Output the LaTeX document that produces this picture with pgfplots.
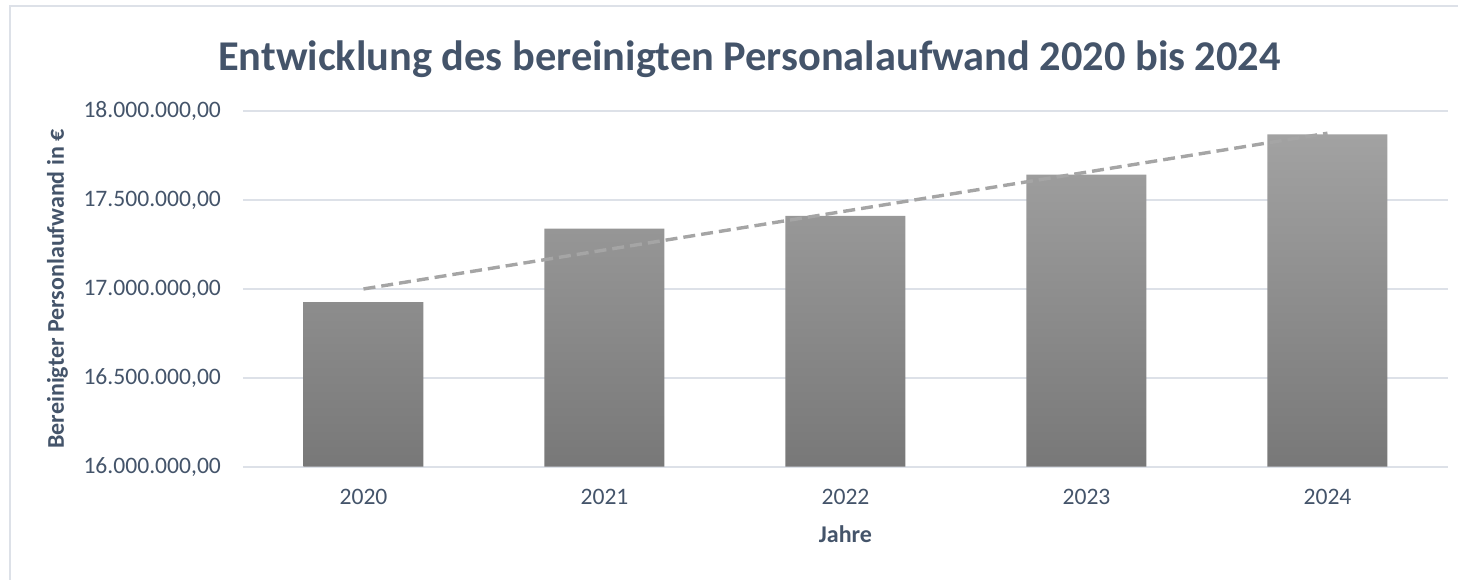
\documentclass[border=0pt]{standalone}
\usepackage{fontspec}
\setmainfont{Carlito}
\usepackage{pgfplots}
\usepackage{pgfplotstable}
\pgfplotsset{compat=1.18}
\definecolor{txt}{HTML}{44546A}
\definecolor{gridc}{HTML}{DDE1E8}
\definecolor{barTop}{HTML}{A2A2A2}
\definecolor{barBot}{HTML}{787878}
\definecolor{trend}{HTML}{A5A5A5}

\pgfplotstableread{
x base y
0 16000000 16926000
1 16000000 17339000
2 16000000 17411000
3 16000000 17642000
4 16000000 17869000
}\datatable

\begin{document}
\begin{tikzpicture}
\useasboundingbox (0pt,0pt) rectangle (729pt,-289.5pt);
\draw[gridc, line width=1pt] (5pt,-300pt) -- (5pt,-3pt) -- (740pt,-3pt);
\begin{axis}[
  at={(121.5pt,-233.35pt)}, anchor=south west,
  scale only axis, width=602.5pt, height=177.85pt,
  xmin=-0.5, xmax=4.5, ymin=16000000, ymax=18000000,
  xtick={0,1,2,3,4}, xticklabels={2020,2021,2022,2023,2024},
  ytick={16000000,16500000,17000000,17500000,18000000},
  scaled y ticks=false,
  axis line style={draw=none}, major tick length=0pt,
  ymajorgrids, grid style={gridc, line width=1pt},
  ticklabel style={font=\fontsize{11.8}{13}\selectfont, text=txt},
  yticklabel style={xshift=-7.5pt, /pgf/number format/.cd, fixed, fixed zerofill, precision=2, use comma, assume math mode=true},
  xticklabel style={yshift=-7.6pt},
]
\addplot[ybar stacked, bar width=60pt, draw=none, fill=none, forget plot] table[x=x, y=base] {\datatable};
\addplot[ybar stacked, bar width=60pt, draw=none, top color=barTop, bottom color=barBot] table[x=x, y expr=\thisrow{y}-\thisrow{base}] {\datatable};
\addplot[stack plots=false, sharp plot, trend, line width=1.7pt, dash pattern=on 6pt off 3pt] table[x=x, y={create col/linear regression={y=y}}] {\datatable};
\end{axis}
\node[anchor=base, text=txt, font=\fontsize{21.2}{25}\selectfont\bfseries] at (374.75pt,-35pt) {Entwicklung des bereinigten Personalaufwand 2020 bis 2024};
\node[rotate=90, text=txt, font=\fontsize{12}{14}\selectfont\bfseries] at (28.75pt,-144.5pt) {Bereinigter Personlaufwand in €};
\node[anchor=base, text=txt, font=\fontsize{12}{14}\selectfont\bfseries] at (422.75pt,-271pt) {Jahre};
\end{tikzpicture}
\end{document}
